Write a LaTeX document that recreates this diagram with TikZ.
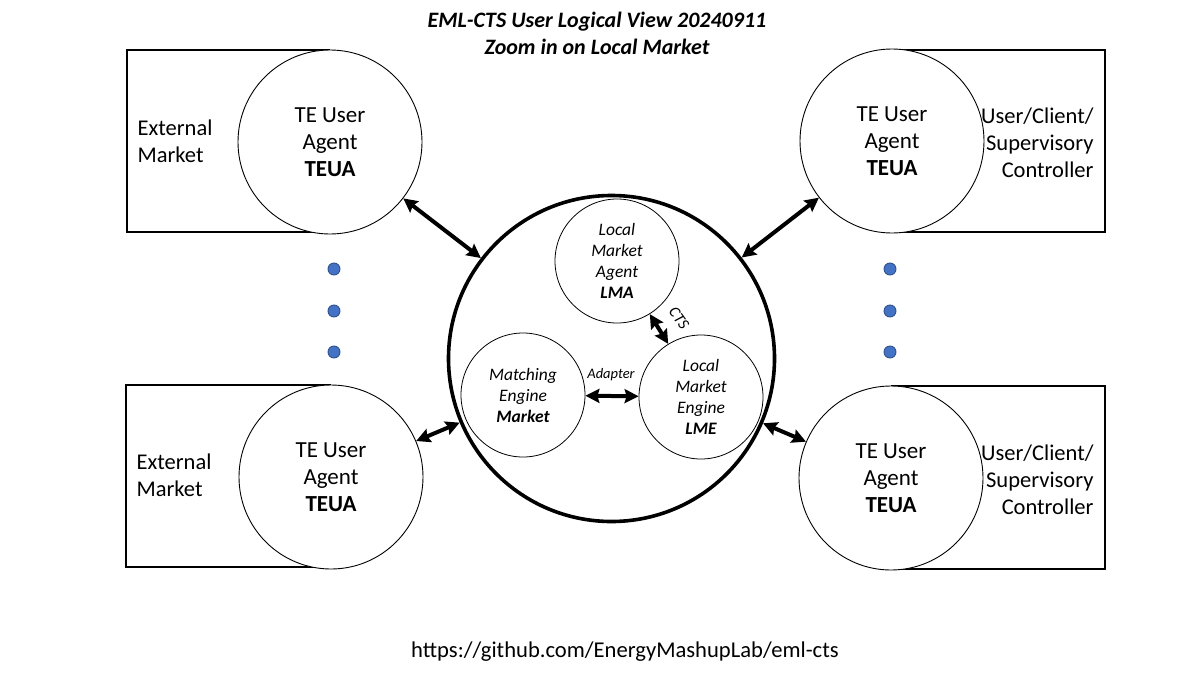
\documentclass[tikz,border=0pt]{standalone}
\usepackage{fontspec}
\setmainfont{Carlito}
\usetikzlibrary{arrows.meta}
\begin{document}
\begin{tikzpicture}[x=1pt,y=-1pt,
  frame/.style={draw=black,line width=1.1pt},
  teua/.style={circle,draw=black,line width=0.9pt,fill=white,minimum size=184pt,inner sep=0pt,align=center,
    font=\fontsize{23}{27}\selectfont},
  bigc/.style={circle,draw=black,line width=3.6pt,fill=white,minimum size=326pt,inner sep=0pt},
  inner/.style={circle,draw=black,line width=0.8pt,fill=white,minimum size=124pt,inner sep=0pt,align=center,
    font=\fontsize{17.5}{21}\selectfont\itshape},
  lbl/.style={align=left,font=\fontsize{22.5}{27}\selectfont},
  lblr/.style={align=right,font=\fontsize{22.5}{27}\selectfont},
  small/.style={font=\fontsize{14.5}{16}\selectfont\itshape,inner sep=0pt},
  dbl/.style={line width=4pt,{Stealth[length=14pt,width=14pt,inset=2pt]}-{Stealth[length=14pt,width=14pt,inset=2pt]}}
]
\useasboundingbox (0,0) rectangle (1200,675);
\fill[white] (0,0) rectangle (1200,675);
\definecolor{dotfill}{HTML}{4472C4}
\definecolor{dotline}{HTML}{2F528F}
\tikzset{dot/.style={circle,draw=dotline,fill=dotfill,line width=0.9pt,minimum size=12pt,inner sep=0pt}}

% title
\node[font=\fontsize{22}{27}\selectfont\bfseries\itshape,align=center] (title) at (597,33)
  {EML-CTS User Logical View 20240911\\Zoom in on Local Market};

% frames (edge on the agent side hidden behind the agent circles)
\draw[frame] (330,50) -- (127,50) -- (127,232) -- (330,232);
\draw[frame] (892,50) -- (1105,50) -- (1105,232) -- (892,232);
\draw[frame] (331,385) -- (126,385) -- (126,567) -- (331,567);
\draw[frame] (891,386) -- (1105,386) -- (1105,569) -- (891,569);

% side labels
\node[lbl,anchor=west] (ext1) at (134,141.5) {External\\Market};
\node[lbl,anchor=west] (ext2) at (133,475.5) {External\\Market};
\node[lblr,anchor=east] (usr1) at (1097,143) {User/Client/\\Supervisory\\Controller};
\node[lblr,anchor=east] (usr2) at (1097,480) {User/Client/\\Supervisory\\Controller};

% TEUA circles
\node[teua] (tl) at (330,142) {TE User\\Agent\\\textbf{TEUA}};
\node[teua] (tr) at (892,141) {TE User\\Agent\\\textbf{TEUA}};
\node[teua] (bl) at (331,477) {TE User\\Agent\\\textbf{TEUA}};
\node[teua] (br) at (891,478) {TE User\\Agent\\\textbf{TEUA}};

% big local market circle
\node[bigc] (lm) at (611.5,358.5) {};

% inner circles
\node[inner] (lma) at (617,261) {Local\\Market\\Agent\\\textbf{LMA}};
\node[inner] (me) at (523,395) {Matching\\Engine\\\textbf{Market}};
\node[inner] (lme) at (701,397) {Local\\Market\\Engine\\\textbf{LME}};

% inner connectors
\draw[dbl] (me) -- (lme);
\node[small] (adapter) at (611,375) {Adapter};
\draw[dbl] (lma) -- (lme);
\node[font=\fontsize{16}{18}\selectfont\itshape,inner sep=0pt,rotate=-55] (cts) at (679,318) {CTS};

% outer connectors
\draw[dbl] (tl) -- (lm);
\draw[dbl] (tr) -- (lm);
\draw[dbl] (bl) -- (lm);
\draw[dbl] (br) -- (lm);

% dots
\node[dot] (d1) at (334,269) {};
\node[dot] (d2) at (334,311) {};
\node[dot] (d3) at (334,352) {};
\node[dot] (d4) at (890,269) {};
\node[dot] (d5) at (890,311) {};
\node[dot] (d6) at (890,352) {};

% url
\node[font=\fontsize{22.6}{26}\selectfont] (url) at (625,652) {https://github.com/EnergyMashupLab/eml-cts};
\end{tikzpicture}
\end{document}
